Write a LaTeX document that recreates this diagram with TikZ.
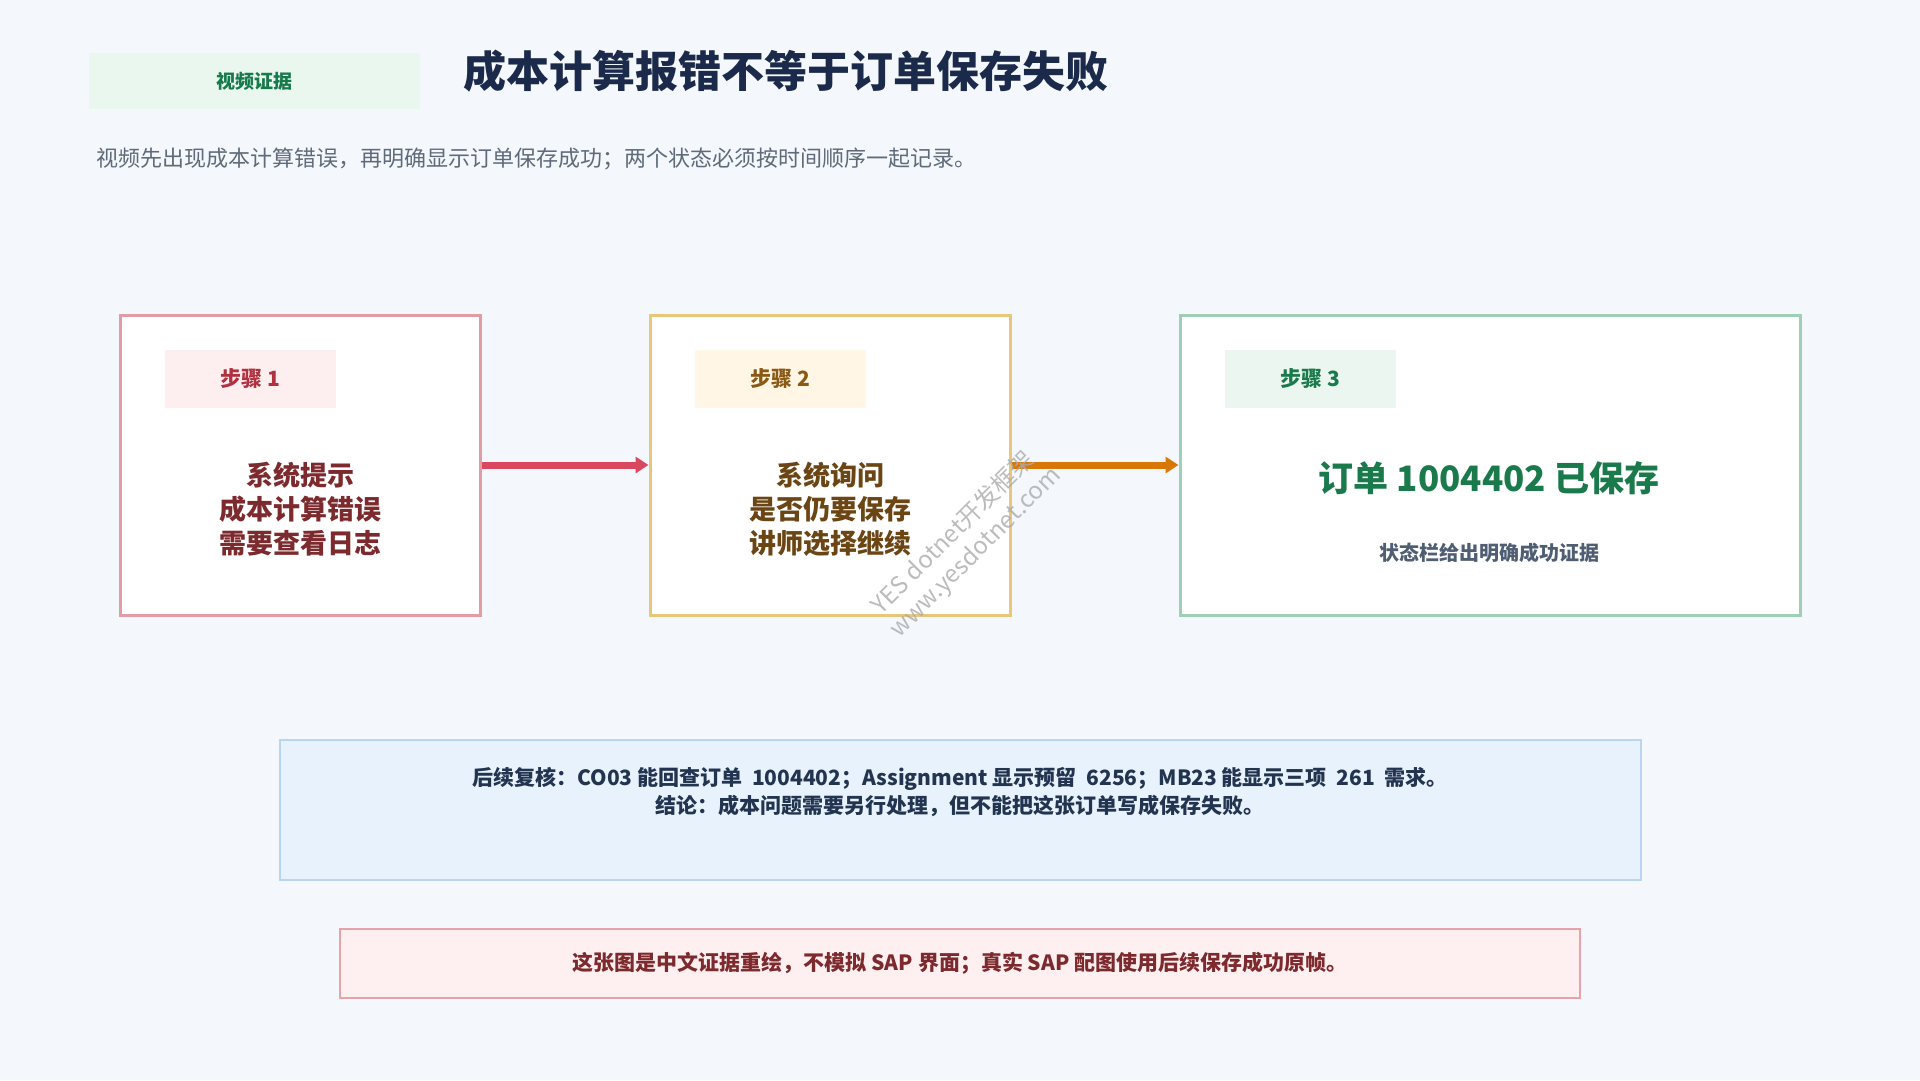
\documentclass[tikz,border=0pt]{standalone}
\usepackage{fontspec}
\setmainfont{Noto Sans CJK SC}
\usetikzlibrary{arrows.meta,positioning}
\definecolor{page}{HTML}{F4F7FC}
\definecolor{navy}{HTML}{1B2A4A}
\definecolor{leadgray}{HTML}{5F6B7A}
\definecolor{evfill}{HTML}{EAF7EF}
\definecolor{evtext}{HTML}{177A4B}
\definecolor{redline}{HTML}{E39BA4}
\definecolor{redfill}{HTML}{FDEEEF}
\definecolor{redtag}{HTML}{B0313F}
\definecolor{redtext}{HTML}{7D2A2E}
\definecolor{redarrow}{HTML}{D9485F}
\definecolor{amberline}{HTML}{E8C77A}
\definecolor{amberfill}{HTML}{FFF6E6}
\definecolor{ambertag}{HTML}{8A5A14}
\definecolor{ambertext}{HTML}{6B4513}
\definecolor{orangearrow}{HTML}{D97706}
\definecolor{greenline}{HTML}{9DD0B4}
\definecolor{greenfill}{HTML}{EAF6EF}
\definecolor{greentext}{HTML}{1A7A4C}
\definecolor{slate}{HTML}{4F5E73}
\definecolor{bluefill}{HTML}{E8F2FD}
\definecolor{blueline}{HTML}{B8D5F3}
\definecolor{bluetext}{HTML}{22344F}
\definecolor{notefill}{HTML}{FEF0F1}
\definecolor{noteline}{HTML}{E8A2AA}
\tikzset{
  stepbox/.style={draw=#1,line width=3pt,fill=white,minimum width=360pt,minimum height=300pt,inner sep=0pt},
  tag/.style={fill=#1,minimum width=171pt,minimum height=58pt,inner sep=0pt,font=\fontsize{21}{24}\selectfont\bfseries},
  body/.style={align=center,inner sep=0pt,font=\fontsize{27}{34}\selectfont\bfseries},
  flow/.style={-{Triangle[length=13pt,width=16pt]},line width=7pt},
  panel/.style={draw=#1,line width=2pt,inner sep=0pt},
  mark wm/.style={rotate=45,text=gray!65,opacity=0.8,inner sep=0pt,font=\fontsize{24}{26}\selectfont},
}

\begin{document}
\begin{tikzpicture}[x=1pt,y=-1pt]
\fill[page] (0,0) rectangle (1920,1080);
\useasboundingbox (0,0) rectangle (1920,1080);
% header
\node[fill=evfill,minimum width=331pt,minimum height=56pt,inner sep=0pt,text=evtext,
  font=\fontsize{19}{22}\selectfont\bfseries] (evidence) at (254.5,81) {视频证据};
\node[anchor=west,inner sep=0pt,text=navy,font=\fontsize{43}{50}\selectfont\bfseries]
  (title) at (463,71) {成本计算报错不等于订单保存失败};
\node[anchor=west,inner sep=0pt,text=leadgray,font=\fontsize{22}{26}\selectfont]
  (lead) at (96,159) {视频先出现成本计算错误，再明确显示订单保存成功；两个状态必须按时间顺序一起记录。};
% step boxes
\node[stepbox=redline] (s1) at (300,465) {};
\node[stepbox=amberline] (s2) at (830,465) {};
\node[stepbox=greenline,minimum width=620pt] (s3) at (1490,465) {};
\node[tag=redfill,text=redtag] (t1) at (250.5,379) {步骤 1};
\node[tag=amberfill,text=ambertag] (t2) at (780,379) {步骤 2};
\node[tag=greenfill,text=greentext] (t3) at (1310,379) {步骤 3};
\node[body,text=redtext] (m1) at (300,509) {系统提示\\成本计算错误\\需要查看日志};
\node[body,text=ambertext] (m2) at (830,509) {系统询问\\是否仍要保存\\讲师选择继续};
\node[inner sep=0pt,text=greentext,font=\fontsize{35}{40}\selectfont\bfseries]
  (m3) at (1489,478) {订单 1004402 已保存};
\node[inner sep=0pt,text=slate,font=\fontsize{20}{24}\selectfont\bfseries]
  (m3sub) at (1489,553) {状态栏给出明确成功证据};
% flow
\draw[flow,redarrow] (s1) -- (s2);
\draw[flow,orangearrow] (s2) -- (s3);
% review and note
\node[panel=blueline,fill=bluefill,minimum width=1361pt,minimum height=140pt] (review) at (960.5,810) {};
\node[align=center,inner sep=0pt,text=bluetext,font=\fontsize{21}{28}\selectfont\bfseries] (reviewtext) at (960,792)
  {后续复核：CO03 能回查订单\ \ 1004402；Assignment 显示预留\ \ 6256；MB23 能显示三项\ \ 261\ \ 需求。\\
   结论：成本问题需要另行处理，但不能把这张订单写成保存失败。};
\node[panel=noteline,fill=notefill,minimum width=1240pt,minimum height=69pt,text=redtext,
  font=\fontsize{21}{24}\selectfont\bfseries] (note) at (960,963.5)
  {这张图是中文证据重绘，不模拟 SAP 界面；真实 SAP 配图使用后续保存成功原帧。};
% watermark
\node[mark wm] (wm1) at (952,532) {YES dotnet开发框架};
\node[mark wm] (wm2) at (976,553) {www.yesdotnet.com};
\end{tikzpicture}
\end{document}
